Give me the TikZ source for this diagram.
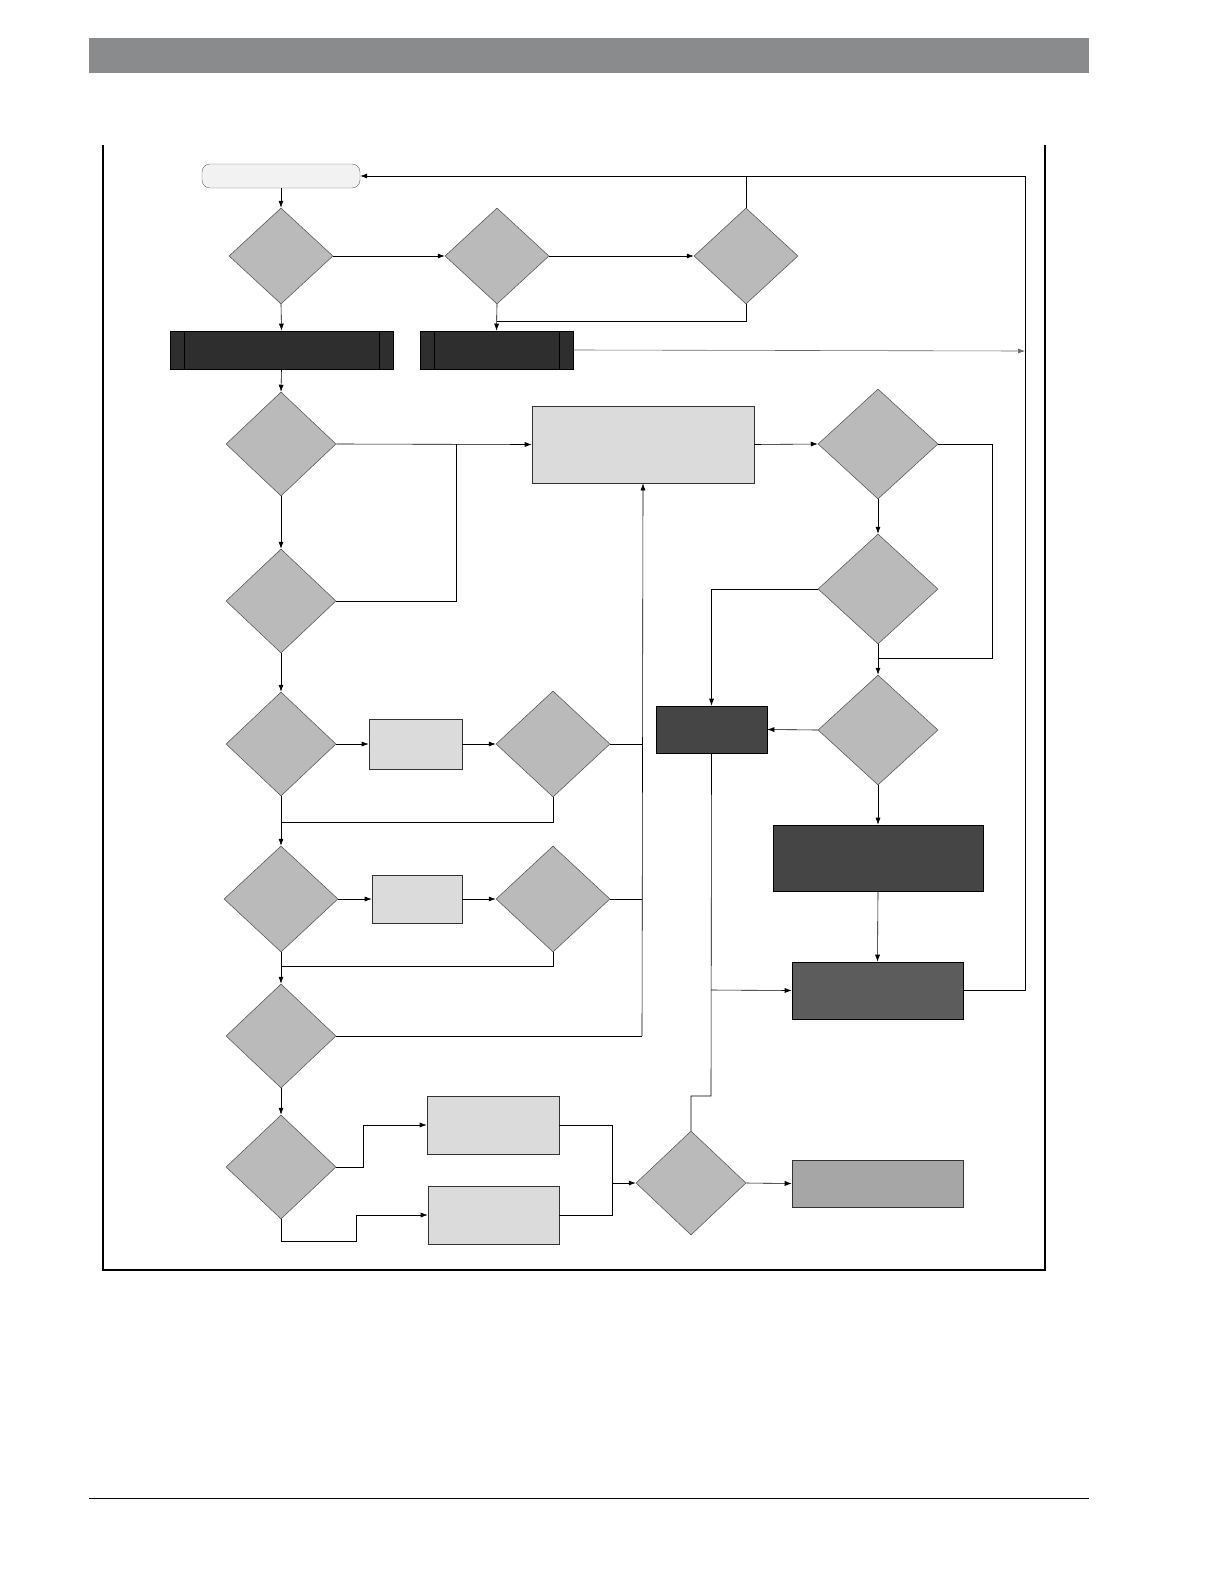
\documentclass[tikz,border=0pt]{standalone}
\usetikzlibrary{shapes.geometric,arrows.meta}
\begin{document}
\begin{tikzpicture}[x=1pt,y=-1pt,
 dia/.style={diamond,draw=black!70,fill=black!27,inner sep=0pt,line width=0.5pt},
 lbox/.style={draw=black!80,fill=black!14,line width=0.6pt},
 dbox/.style={draw=black,fill=black!73,line width=0.6pt},
 ln/.style={line width=0.6pt},
 ar/.style={ln,-{Latex[length=7pt,width=5pt]}}]
\useasboundingbox (0,0) rectangle (1224,1584);
\fill[black!45!white!95!black, fill={rgb,255:red,138;green,139;blue,140}] (89,38) rectangle (1089,73);
\draw[line width=0.6pt] (89,1498) -- (1089,1498);
\draw[line width=1.2pt] (103,145) -- (103,1270) -- (1045,1270) -- (1045,145);
% nodes
\node[draw=black!60,fill=black!5,rounded corners=8pt,minimum width=158pt,minimum height=24pt,inner sep=0] (st) at (281,176) {};
\newcommand{\dd}[5]{\node[dia,minimum width=#4pt,minimum height=#5pt] (#1) at (#2,#3) {};}
\dd{d1}{281}{256}{104}{96}
\dd{d2}{497}{256}{104}{96}
\dd{d3}{746}{256}{104}{96}
\dd{d4}{281}{444}{110}{104}
\dd{d5}{878}{444}{120}{110}
\dd{d6}{281}{601}{110}{104}
\dd{d7}{878}{589}{120}{110}
\dd{d8}{281}{744}{110}{104}
\dd{d9}{553}{744}{114}{106}
\dd{d10}{878}{730}{120}{110}
\dd{d11}{281}{899}{114}{106}
\dd{d12}{553}{899}{114}{106}
\dd{d13}{281}{1036}{110}{104}
\dd{d14}{281}{1167}{110}{104}
\dd{d15}{691}{1183}{110}{104}
\newcommand{\bx}[6]{\node[#6,minimum width=#4pt,minimum height=#5pt,inner sep=0] (#1) at (#2,#3) {};}
\bx{b1}{281.5}{350}{223}{38}{dbox,fill=black!82}
\draw (184,331)--(184,369) (379,331)--(379,369);
\bx{b2}{496.5}{350}{153}{38}{dbox,fill=black!82}
\draw (434,331)--(434,369) (559,331)--(559,369);
\bx{p1}{643}{444.5}{222}{77}{lbox}
\bx{q1}{415.5}{744}{93}{50}{lbox}
\bx{q2}{417}{899}{90}{48}{lbox}
\bx{b3}{711.5}{729.5}{111}{47}{dbox}
\bx{b4}{878}{858}{210}{66}{dbox}
\bx{b5}{877.5}{990.5}{171}{57}{dbox,fill=black!64}
\bx{qa}{493}{1125}{132}{58}{lbox}
\bx{qb}{493.5}{1215}{131}{58}{lbox}
\bx{g}{877.5}{1183.5}{171}{47}{draw=black!80,fill=black!35,line width=0.6pt}
\coordinate (R) at (1025,176);
% connectors
\draw[ar] (st.south) -- (d1.north);
\draw[ar] (d1.east) -- (d2.west);
\draw[ar] (d2.east) -- (d3.west);
\draw[ar] (d3.north) |- (st.east);
\draw[ln] (R) -- (d3.north |- R);
\draw[ar] (d1.south) -- (b1.north);
\draw[ar] (d2.south) -- (b2.north);
\draw[ln] (d3.south) |- (497,321);
\draw[ar,black!60] (b2.east) -- (1025,351);
\draw[ln] (b5.east) -| (R);
\draw[ar] (b1.south) -- (d4.north);
\draw[ar] (d4.east) -- (p1.west);
\draw[ln] (d6.east) -| (456,444);
\draw[ar] (d4.south) -- (d6.north);
\draw[ar] (p1.east) -- (d5.west);
\draw[ar] (d5.south) -- (d7.north);
\draw[ln] (d5.east) -| (992,658) -- (878,658);
\draw[ar] (d7.south) -- (d10.north);
\draw[ar] (d7.west) -| (b3.north);
\draw[ar] (d10.west) -- (b3.east);
\draw[ar] (d10.south) -- (b4.north);
\draw[ar] (b4.south) -- (b5.north);
\draw[ln] (b3.south) -- (711,1096) -| (d15.north);
\draw[ar] (711,990) -- (b5.west);
\draw[ar] (d6.south) -- (d8.north);
\draw[ar] (d8.east) -- (q1.west);
\draw[ar] (q1.east) -- (d9.west);
\draw[ln] (d9.east) -- (642,744);
\draw[ar] (642,1036) -- (p1.south);
\draw[ln] (d12.east) -- (642,899);
\draw[ln] (d13.east) -- (642,1036);
\draw[ar] (d8.south) -- (d11.north);
\draw[ln] (d9.south) |- (281,822);
\draw[ar] (d11.east) -- (q2.west);
\draw[ar] (q2.east) -- (d12.west);
\draw[ln] (d12.south) |- (281,966);
\draw[ar] (d11.south) -- (d13.north);
\draw[ar] (d13.south) -- (d14.north);
\draw[ar] (d14.east) -- (363,1167) |- (qa.west);
\draw[ar] (d14.south) |- (356,1241) |- (qb.west);
\draw[ln] (qa.east) -| (612,1183);
\draw[ln] (qb.east) -| (612,1183);
\draw[ar] (612,1183) -- (d15.west);
\draw[ar] (d15.east) -- (g.west);
\end{tikzpicture}
\end{document}
